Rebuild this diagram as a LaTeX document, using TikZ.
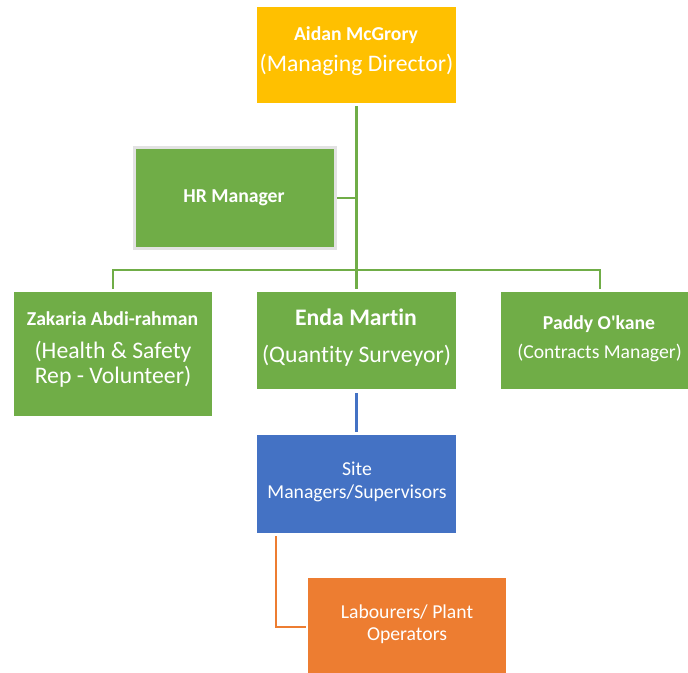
\documentclass[tikz,border=0pt]{standalone}
\usepackage{fontspec}
\setmainfont{Carlito}[Ligatures=NoCommon, RawFeature={-liga}]
\definecolor{cyellow}{HTML}{FFC000}
\definecolor{cgreen}{HTML}{70AD47}
\definecolor{cblue}{HTML}{4472C4}
\definecolor{corange}{HTML}{ED7D31}
\definecolor{cgray}{HTML}{E2E2E2}
\begin{document}
\begin{tikzpicture}[x=1pt,y=-1pt,
  box/.style={rectangle, inner sep=0pt, outer sep=0pt, minimum width=199pt},
  txt/.style={anchor=base, text=white, inner sep=0pt},
  small/.style={font=\fontsize{19.7}{23}\selectfont},
  smallb/.style={font=\fontsize{19.7}{23}\selectfont\bfseries},
  big/.style={font=\fontsize{23.7}{28}\selectfont},
  bigb/.style={font=\fontsize{23.7}{28}\selectfont\bfseries},
  gline/.style={draw=cgreen, line width=2.3pt},
  bline/.style={draw=cblue, line width=2.3pt},
  oline/.style={draw=corange, line width=2.3pt}]
\useasboundingbox (0,0) rectangle (688,672);
\clip (0,0) rectangle (688,672);
% boxes
\node[box, fill=cyellow, minimum height=96pt] (top) at (356.5,55) {};
\node[box, fill=cgreen, draw=cgray, line width=2.5pt, minimum width=201pt, minimum height=101pt] (hr) at (235,198) {};
\node[box, fill=cgreen, minimum width=198pt, minimum height=124pt] (zak) at (113,354) {};
\node[box, fill=cgreen, minimum height=97pt] (enda) at (356.5,340.5) {};
\node[box, fill=cgreen, minimum width=198pt, minimum height=97pt] (paddy) at (600,340.5) {};
\node[box, fill=cblue, minimum height=98pt] (site) at (356.5,484) {};
\node[box, fill=corange, minimum width=198pt, minimum height=98pt] (lab) at (407,627) {};
% texts
\node[txt, smallb] (t1a) at (356,40) {Aidan McGrory};
\node[txt, big] (t1b) at (356.5,71) {(Managing Director)};
\node[txt, smallb] (t2) at (234,202) {HR Manager};
\node[txt, smallb] (t3a) at (112.5,325) {Zakaria Abdi-rahman};
\node[txt, big] (t3b) at (113,358) {(Health \& Safety};
\node[txt, big] (t3c) at (113,383) {Rep - Volunteer)};
\node[txt, bigb] (t4a) at (356,325) {Enda Martin};
\node[txt, big] (t4b) at (356.5,362) {(Quantity Surveyor)};
\node[txt, smallb] (t5a) at (599,329) {Paddy O\textquotesingle kane};
\node[txt, small] (t5b) at (599.5,358) {(Contracts Manager)};
\node[txt, small] (t6a) at (357,475) {Site};
\node[txt, small] (t6b) at (357,498) {Managers/Supervisors};
\node[txt, small] (t7a) at (407,618) {Labourers/ Plant};
\node[txt, small] (t7b) at (407,640) {Operators};
% connectors
\coordinate (bus) at (357,270);
\draw[gline] ([yshift=-3pt]top.south) -- ([yshift=3pt]enda.north);
\draw[gline] ([xshift=1.5pt]hr.east) -- (hr.east -| top.south);
\draw[gline] ([yshift=3pt]zak.north) -- (zak.north |- bus) -- (paddy.north |- bus) -- ([yshift=3pt]paddy.north);
\draw[bline] ([yshift=-4pt]enda.south) -- ([yshift=3pt]site.north);
\coordinate (oc) at (276,627);
\draw[oline] ([yshift=-3pt]site.south -| oc) -- (oc) -- ([xshift=-2pt]lab.west);
\end{tikzpicture}
\end{document}
